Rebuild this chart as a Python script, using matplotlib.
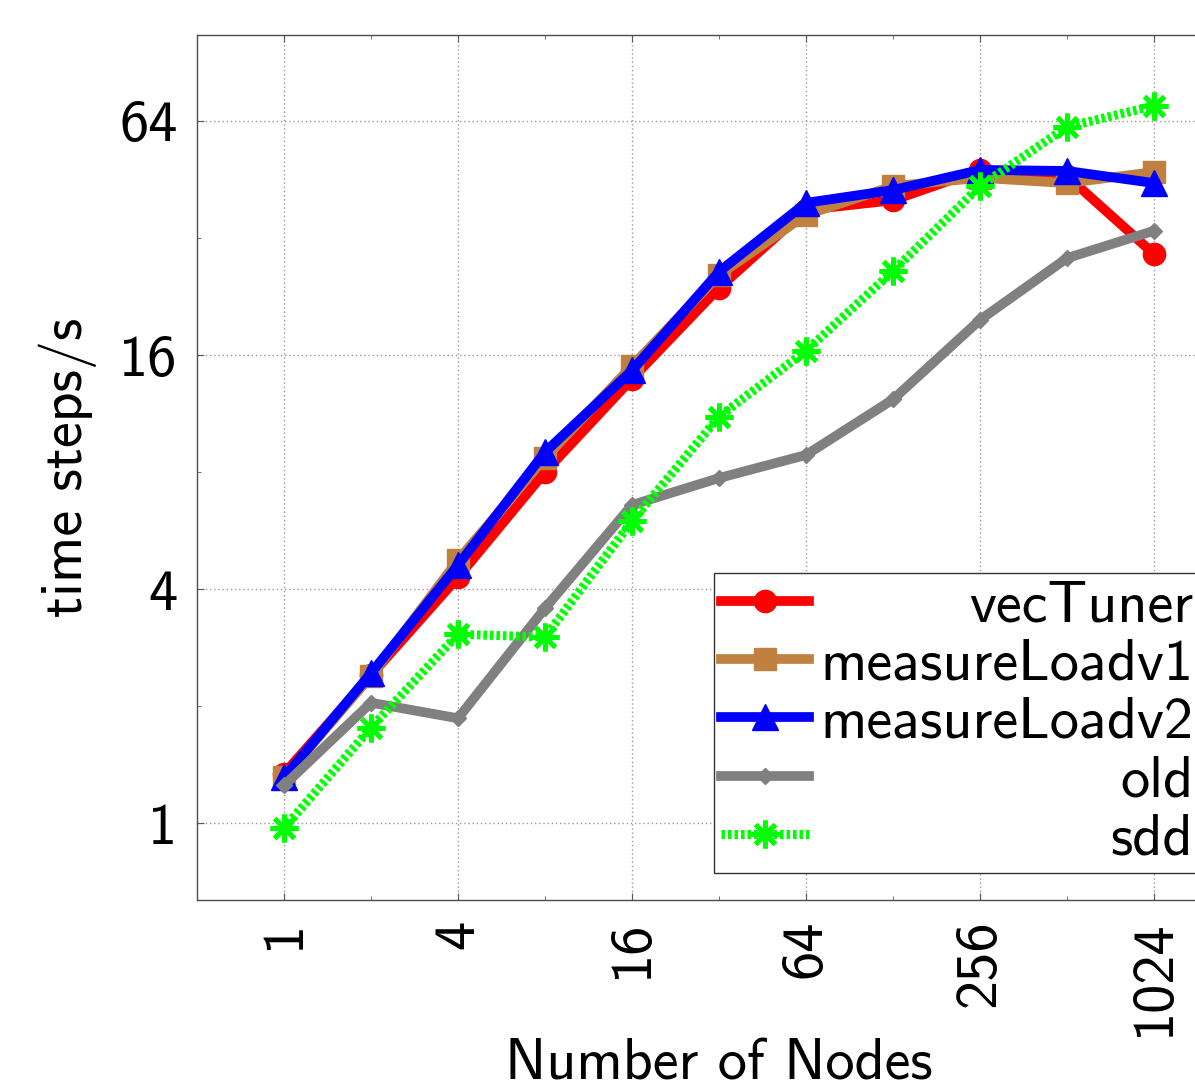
import matplotlib
matplotlib.use("Agg")
import matplotlib.pyplot as plt
from matplotlib.ticker import FixedLocator, NullFormatter

# ── Data ──────────────────────────────────────────────────────────────────────
NODES = [1, 2, 4, 8, 16, 32, 64, 128, 256, 512, 1024]

VECTUNER  = [1.34, 2.40, 4.29, 8.0, 13.9, 23.8, 37.8, 40.0, 47.9, 46.2, 29.1]
MLOAD_V1  = [1.31, 2.39, 4.75, 8.7, 15.0, 25.7, 36.7, 43.5, 45.7, 44.3, 47.3]
MLOAD_V2  = [1.31, 2.43, 4.61, 9.0, 14.6, 26.2, 39.4, 42.5, 47.9, 47.6, 44.3]
OLD       = [1.25, 2.04, 1.86, 3.57, 6.58, 7.72, 8.85, 12.3, 19.7, 28.4, 33.4]
SDD       = [0.97, 1.76, 3.06, 3.01, 5.98, 11.1, 16.4, 26.3, 43.5, 61.8, 70.0]

X_TICKS = [1, 4, 16, 64, 256, 1024]
Y_TICKS = [1, 4, 16, 64]

# ── Style ─────────────────────────────────────────────────────────────────────
plt.rcParams["font.family"] = ["cmss10", "DejaVu Sans"]
plt.rcParams["axes.unicode_minus"] = False
FS = 42

W, H = 1195, 1091
fig = plt.figure(figsize=(W / 100, H / 100), dpi=100)

# axes box in pixels: left 197, bottom 900, top 35, right runs past the edge
ax = fig.add_axes([197 / W, 1 - 900 / H, 1044 / W, 865 / H])
ax.set_xscale("log", base=2)
ax.set_yscale("log", base=2)
ax.set_xlim(0.5, 2048)
ax.set_ylim(0.634, 106.5)

series = [
    ("vecTuner",      VECTUNER, dict(color="#FF0000", marker="o", ms=16, lw=7)),
    ("measureLoadv1", MLOAD_V1, dict(color="#BF8040", marker="s", ms=16, lw=7)),
    ("measureLoadv2", MLOAD_V2, dict(color="#0000FF", marker="^", ms=19, lw=7)),
    ("old",           OLD,      dict(color="#808080", marker="D", ms=8, lw=7)),
    ("sdd",           SDD,      dict(color="#00FF00", marker=(8, 2, 0), ms=20,
                                     mew=3.5, lw=6.5, ls=(0, (0.4, 0.32)))),
]
for label, ys, kw in series:
    ax.plot(NODES, ys, label=label, dash_capstyle="butt", **kw)

ax.xaxis.set_major_locator(FixedLocator(X_TICKS))
ax.xaxis.set_minor_locator(FixedLocator([2, 8, 32, 128, 512]))
ax.yaxis.set_major_locator(FixedLocator(Y_TICKS))
ax.yaxis.set_minor_locator(FixedLocator([2, 8, 32]))
ax.xaxis.set_minor_formatter(NullFormatter())
ax.yaxis.set_minor_formatter(NullFormatter())
ax.set_xticklabels([str(v) for v in X_TICKS], rotation=90, fontsize=FS)
ax.set_yticklabels([str(v) for v in Y_TICKS], fontsize=FS)
ax.tick_params(which="both", direction="in", top=True, right=True, color="0.35")
ax.tick_params(which="major", length=5, pad=14)
ax.tick_params(which="minor", length=3)
ax.grid(True, which="major", color="0.6", ls=(0, (1, 2)), lw=1)
for sp in ax.spines.values():
    sp.set_color("0.3")
    sp.set_linewidth(1)

ax.set_xlabel("Number of Nodes", fontsize=FS, labelpad=2)
ax.set_ylabel("time steps/s", fontsize=FS, labelpad=16)

leg = ax.legend(
    loc="upper left", bbox_to_anchor=(714 / W, 1 - 573 / H),
    bbox_transform=fig.transFigure, borderaxespad=0, fontsize=FS,
    fancybox=False, framealpha=1, edgecolor="0.2", handlelength=1.5,
    handletextpad=0.2, borderpad=0.12, labelspacing=0.11,
)
leg.get_frame().set_linewidth(1)

# right-align legend labels (pgfplots style)
fig.canvas.draw()
r = fig.canvas.get_renderer()
texts = leg.get_texts()
widths = [t.get_window_extent(r).width for t in texts]
wmax = max(widths)
col = leg._legend_handle_box.get_children()[0]
for hp, w in zip(col.get_children(), widths):
    hp.sep += (wmax - w) * 72 / fig.dpi

fig.savefig("out.png", dpi=100)
